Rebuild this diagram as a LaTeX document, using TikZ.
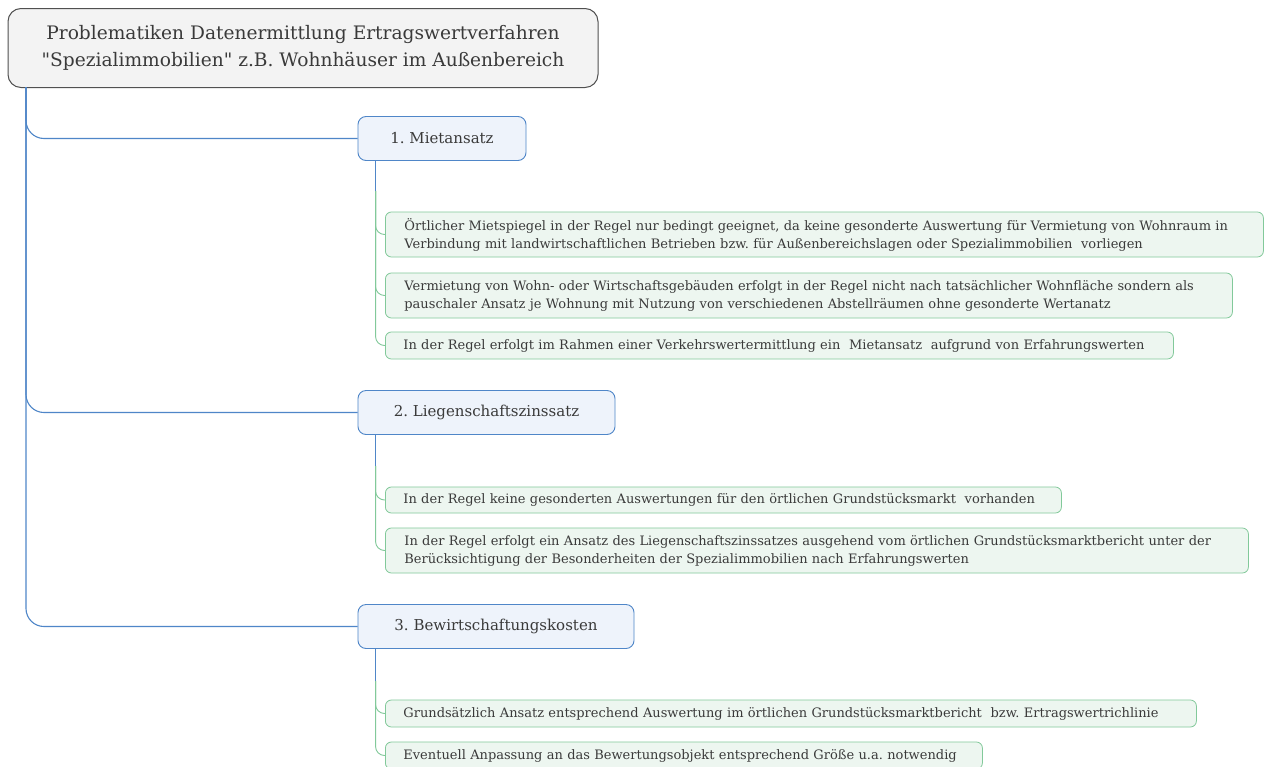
\documentclass[tikz,border=0pt]{standalone}
\usepackage{fontspec}
\setmainfont{DejaVu Serif}
\newfontfamily\plainq{DejaVu Serif}
\newcommand{\sq}{{\plainq\char34}}
\usetikzlibrary{calc}
\frenchspacing
\definecolor{txt}{HTML}{3A3A3A}
\definecolor{rootfill}{HTML}{F3F3F3}
\definecolor{rootdraw}{HTML}{505050}
\definecolor{topfill}{HTML}{EEF3FB}
\definecolor{topdraw}{HTML}{4F86C8}
\definecolor{leaffill}{HTML}{EDF6F0}
\definecolor{leafdraw}{HTML}{82C99A}
\definecolor{blueline}{HTML}{4F86C8}
\definecolor{greenline}{HTML}{82C99A}
\tikzset{
  rootbox/.style={draw=rootdraw, fill=rootfill, line width=1pt, rounded corners=13pt,
    minimum width=590pt, minimum height=79pt, align=center, text=txt,
    font=\fontsize{18.6}{27}\selectfont},
  topicbox/.style={draw=topdraw, fill=topfill, line width=0.9pt, rounded corners=8pt,
    minimum height=44pt, inner xsep=0pt, text=txt, font=\fontsize{15}{18}\selectfont},
  leafbox/.style={draw=leafdraw, fill=leaffill, line width=0.8pt, rounded corners=6pt,
    anchor=west, inner xsep=19pt, inner ysep=0pt, align=left, text=txt,
    font=\fontsize{13}{18}\selectfont},
  rootlink/.style={draw=blueline, line width=1.1pt, rounded corners=18pt},
  topiclink/.style={draw=blueline, line width=1.1pt},
  leaflink/.style={draw=greenline, line width=0.9pt, rounded corners=9pt},
}
\begin{document}
\begin{tikzpicture}[x=1pt, y=-1pt]
\useasboundingbox (0,0) rectangle (1266,766);
\clip (0,0) rectangle (1266,766);
\fill[white] (0,0) rectangle (1266,766);

% root
\node[rootbox] (root) at (303,48) {Problematiken Datenermittlung Ertragswertverfahren\\\sq Spezialimmobilien\sq{} z.B. Wohnhäuser im Außenbereich};
\coordinate (rs) at (26,87);

% topics
\node[topicbox, minimum width=168pt] (t1) at (442,138.5) {1. Mietansatz};
\node[topicbox, minimum width=257pt] (t2) at (486.5,412.5) {2. Liegenschaftszinssatz};
\node[topicbox, minimum width=276pt] (t3) at (496,626.5) {3. Bewirtschaftungskosten};

\draw[rootlink] (rs) |- (t1.west);
\draw[rootlink] (rs) |- (t2.west);
\draw[rootlink] (rs) |- (t3.west);

% topic 1 leaves
\node[leafbox, text width=840pt, minimum height=45pt] (l1) at (385,234.5) {Örtlicher Mietspiegel in der Regel nur bedingt geeignet, da keine gesonderte Auswertung für Vermietung von Wohnraum in\\Verbindung mit landwirtschaftlichen Betrieben bzw. für Außenbereichslagen oder Spezialimmobilien~ vorliegen};
\node[leafbox, text width=809pt, minimum height=45pt] (l2) at (385,295.5) {Vermietung von Wohn- oder Wirtschaftsgebäuden erfolgt in der Regel nicht nach tatsächlicher Wohnfläche sondern als\\pauschaler Ansatz je Wohnung mit Nutzung von verschiedenen Abstellräumen ohne gesonderte Wertanatz};
\node[leafbox, minimum height=27pt, inner xsep=18pt, text width=752pt] (l3) at (385,345.5) {In der Regel erfolgt im Rahmen einer Verkehrswertermittlung ein~ Mietansatz~ aufgrund von Erfahrungswerten};

% topic 2 leaves
\node[leafbox, minimum height=26pt, inner xsep=18pt, text width=640pt] (l4) at (385,500) {In der Regel keine gesonderten Auswertungen für den örtlichen Grundstücksmarkt~ vorhanden};
\node[leafbox, text width=825pt, minimum height=45pt] (l5) at (385,550.5) {In der Regel erfolgt ein Ansatz des Liegenschaftszinssatzes ausgehend vom örtlichen Grundstücksmarktbericht unter der\\Berücksichtigung der Besonderheiten der Spezialimmobilien nach Erfahrungswerten};

% topic 3 leaves
\node[leafbox, minimum height=27pt, inner xsep=18pt, text width=775pt] (l6) at (385,713.5) {Grundsätzlich Ansatz entsprechend Auswertung im örtlichen Grundstücksmarktbericht~ bzw. Ertragswertrichlinie};
\node[leafbox, minimum height=27pt, inner xsep=18pt, text width=561pt] (l7) at (385,755.5) {Eventuell Anpassung an das Bewertungsobjekt entsprechend Größe u.a. notwendig};

% topic spines
\coordinate (t1s) at ($(t1.south west)+(18,0)$);
\coordinate (t1m) at ($(t1s)+(0,30)$);
\coordinate (t2s) at ($(t2.south west)+(18,0)$);
\coordinate (t2m) at ($(t2s)+(0,31)$);
\coordinate (t3s) at ($(t3.south west)+(18,0)$);
\coordinate (t3m) at ($(t3s)+(0,32)$);

\draw[leaflink] (t1m) |- (l1.west);
\draw[leaflink] (t1m) |- (l2.west);
\draw[leaflink] (t1m) |- (l3.west);
\draw[leaflink] (t2m) |- (l4.west);
\draw[leaflink] (t2m) |- (l5.west);
\draw[leaflink] (t3m) |- (l6.west);
\draw[leaflink] (t3m) |- (l7.west);

\draw[topiclink] (t1s) -- (t1m);
\draw[topiclink] (t2s) -- (t2m);
\draw[topiclink] (t3s) -- (t3m);
\end{tikzpicture}
\end{document}
